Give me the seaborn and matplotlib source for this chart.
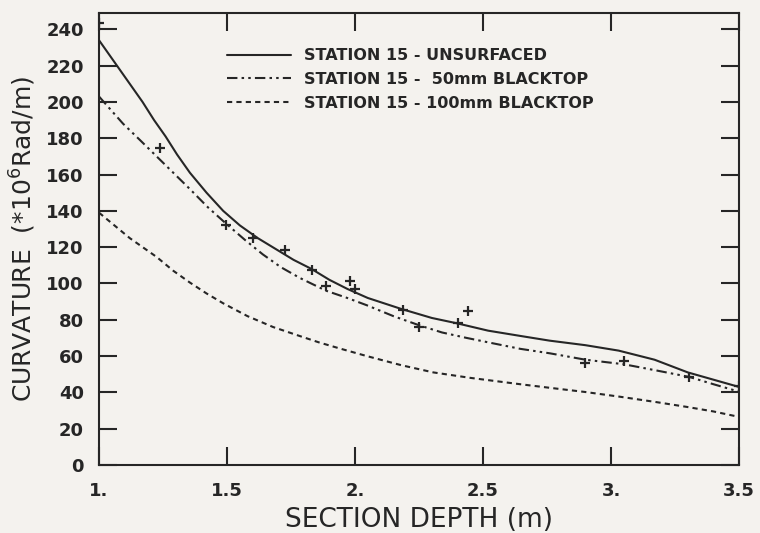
import numpy as np
import pandas as pd
import matplotlib
matplotlib.use("Agg")
import matplotlib.pyplot as plt
import seaborn as sns

# curve values (depth in m, curvature in 1e-6 rad/m)
unsurf_x = [1.0, 1.035, 1.07, 1.12, 1.17, 1.215, 1.26, 1.305, 1.355, 1.42, 1.485, 1.55, 1.62, 1.69,
            1.76, 1.83, 1.9, 1.97, 2.05, 2.18, 2.3, 2.4, 2.52, 2.65, 2.76, 2.9, 3.03, 3.17, 3.3, 3.4, 3.5]
unsurf_y = [234, 227, 220, 210, 200, 190, 181, 171, 161, 150, 140, 132, 125, 119,
            113, 108, 102, 97, 92, 86, 81, 78, 74, 71, 68.5, 66, 63, 58, 51, 47, 43]

bt50_x = [1.0, 1.05, 1.094, 1.16, 1.225, 1.29, 1.355, 1.425, 1.496, 1.57, 1.64, 1.71, 1.785, 1.887,
          1.97, 2.046, 2.15, 2.25, 2.34, 2.436, 2.54, 2.645, 2.762, 2.9, 3.05, 3.18, 3.306, 3.4, 3.5]
bt50_y = [203, 195, 188, 179, 170, 161, 152, 142, 133, 124, 116, 109, 103, 96,
          92, 88, 82, 77, 73, 70, 67, 64, 61.5, 58, 55.5, 52, 48.5, 44.5, 40.4]

bt100_x = [1.0, 1.06, 1.12, 1.225, 1.29, 1.355, 1.42, 1.486, 1.58, 1.68, 1.785, 1.86, 1.94, 2.046,
           2.18, 2.306, 2.45, 2.645, 2.762, 2.9, 3.035, 3.17, 3.296, 3.4, 3.5]
bt100_y = [139, 132, 125, 114.6, 107, 100.5, 94.5, 89, 82, 76, 71, 67.5, 64.2, 60,
           55, 51, 48, 44.5, 42.5, 40.2, 37.6, 34.8, 32, 29.5, 26.5]

# measured points (crosses)
meas_x = [1.0, 1.24, 1.496, 1.60, 1.727, 1.83, 1.887, 1.98, 2.0, 2.186, 2.251, 2.404, 2.443, 2.90, 3.051, 3.306, 3.5]
meas_y = [243.5, 174.5, 132, 125, 118.5, 107.5, 98.6, 101.5, 97.2, 85.3, 75.8, 78.3, 84.7, 56.3, 57.4, 48.6, 43.5]

labels = ["STATION 15 - UNSURFACED", "STATION 15 -  50mm BLACKTOP", "STATION 15 - 100mm BLACKTOP"]
x_ticks = [1.0, 1.5, 2.0, 2.5, 3.0, 3.5]
x_ticklabels = ["1.", "1.5", "2.", "2.5", "3.", "3.5"]
y_ticks = list(range(0, 241, 20))

sns.set_theme(style="ticks")
bg = "#f4f2ee"
ink = "#262626"
plt.rcParams["font.family"] = ["DejaVu Sans"]
plt.rcParams["text.color"] = ink
plt.rcParams["axes.labelcolor"] = ink

fig = plt.figure(figsize=(7.6, 5.33), dpi=100, facecolor=bg)
ax = fig.add_axes([0.1303, 0.1276, 0.8421, 0.848])
ax.set_facecolor(bg)

styles = ["-", (0, (5, 2, 1.2, 2, 1.2, 2)), (0, (2.5, 2))]
series = [(unsurf_x, unsurf_y), (bt50_x, bt50_y), (bt100_x, bt100_y)]
for (xs, ys), lab, ls in zip(series, labels, styles):
    df = pd.DataFrame({"depth": xs, "curv": ys})
    sns.lineplot(data=df, x="depth", y="curv", ax=ax, color=ink, linewidth=1.5,
                 linestyle=ls, label=lab, estimator=None, sort=False)

sns.scatterplot(x=meas_x, y=meas_y, ax=ax, marker="+", s=50, color=ink, linewidth=1.6, zorder=5)

ax.set_xlim(1.0, 3.5)
ax.set_ylim(0, 249)
ax.set_xticks(x_ticks)
ax.set_xticklabels(x_ticklabels)
ax.set_yticks(y_ticks)

for sp in ax.spines.values():
    sp.set_visible(True)
    sp.set_linewidth(1.5)
    sp.set_color(ink)

ax.tick_params(axis="both", direction="in", length=13, width=1.5, colors=ink,
               top=True, right=True, labelsize=13)
ax.tick_params(axis="x", pad=12)
ax.tick_params(axis="y", pad=11)
for t in ax.get_xticklabels() + ax.get_yticklabels():
    t.set_fontweight("bold")

ax.set_xlabel("SECTION DEPTH (m)", fontsize=19, labelpad=5)
ax.set_ylabel("CURVATURE  (*10$^{\\mathregular{6}}$Rad/m)", fontsize=18, labelpad=6)

handles = ax.get_lines()[:3]
ax.legend(handles, labels, loc="upper left", bbox_to_anchor=(0.2, 0.922), frameon=False,
          borderpad=0, borderaxespad=0, handlelength=4.0, handletextpad=0.85,
          labelspacing=0.55, prop={"size": 11.5, "weight": "bold"})

fig.savefig("out.png", dpi=100, facecolor=bg)
